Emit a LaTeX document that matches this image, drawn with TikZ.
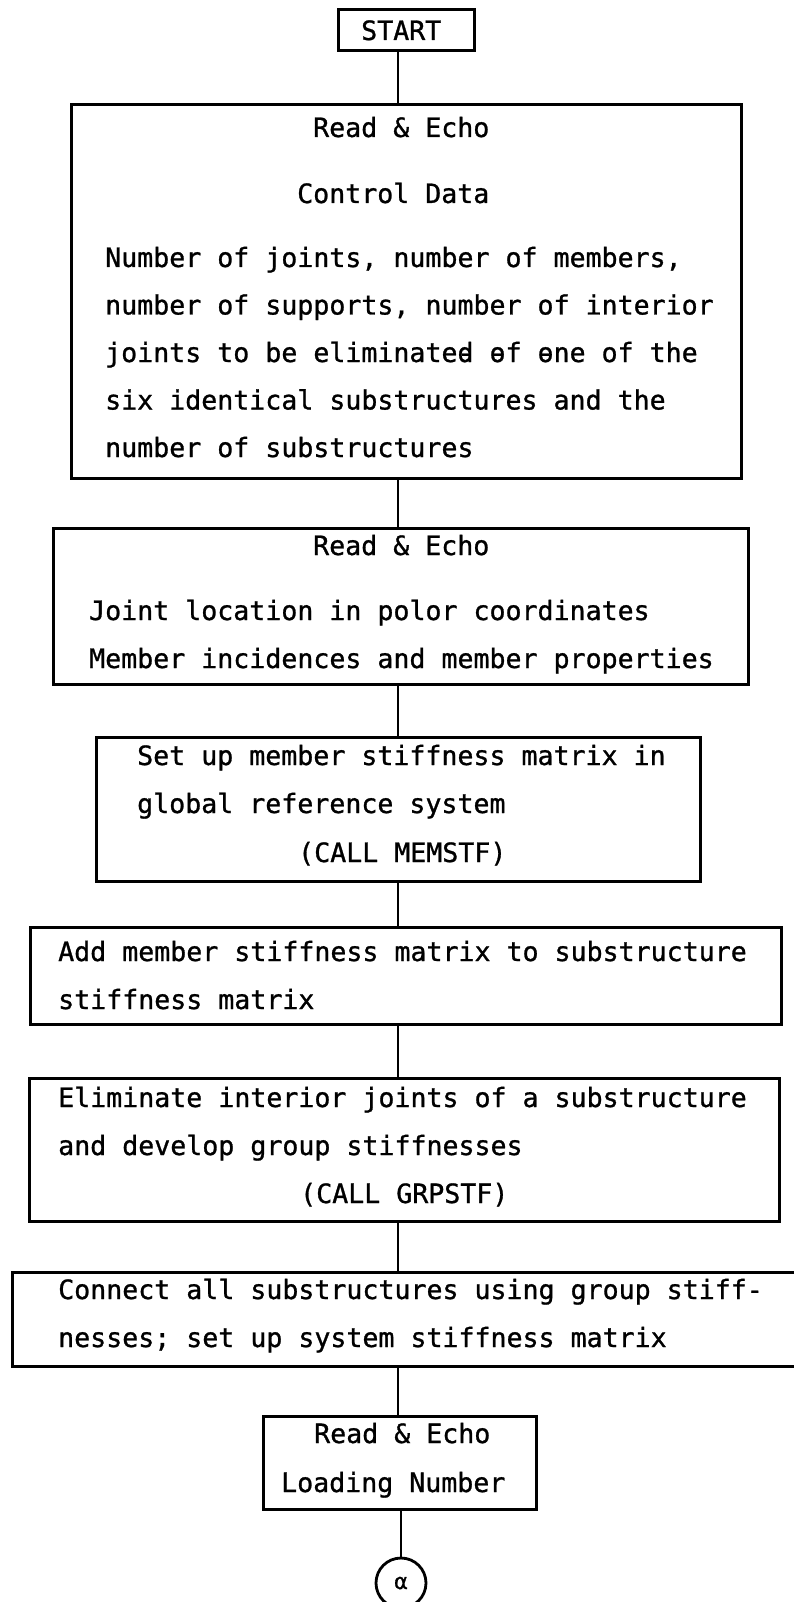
\documentclass[tikz,border=0pt]{standalone}
\usepackage{fontspec}
\setmonofont[FakeBold=1]{DejaVu Sans Mono}
\begin{document}
\begin{tikzpicture}[x=1pt,y=-1pt,
  box/.style={draw, line width=2.8pt, rectangle, inner sep=0pt, anchor=north west},
  txt/.style={anchor=base west, inner sep=0pt, font=\ttfamily\fontsize{26.6}{32}\selectfont},
  link/.style={line width=2.8pt},
  conn/.style={draw, circle, line width=2.8pt, minimum size=50pt, inner sep=0pt, font=\ttfamily\fontsize{22}{26}\selectfont}]
\useasboundingbox (0,0) rectangle (793,1602);
\coordinate (cx) at (398,0);
% START
\node[box, minimum width=136pt, minimum height=41pt] (start) at (337,8) {};
\node[txt] (tstart) at (361,40) {START};
% Box 1
\node[box, minimum width=670pt, minimum height=374pt] (b1) at (70,103) {};
\node[txt] (t1a) at (313,137) {Read \& Echo};
\node[txt] (t1b) at (297,203) {Control Data};
\node[txt] (t1c) at (105,267) {Number of joints, number of members,};
\node[txt] (t1d) at (105,314.5) {number of supports, number of interior};
\node[txt] (t1e) at (105,362) {joints to be eliminate\rlap{-}d \rlap{-}of \rlap{-}one of the};
\node[txt] (t1f) at (105,409.5) {six identical substructures and the};
\node[txt] (t1g) at (105,457) {number of substructures};
% Box 2
\node[box, minimum width=695pt, minimum height=156pt] (b2) at (52,527) {};
\node[txt] (t2a) at (313,555) {Read \& Echo};
\node[txt] (t2b) at (89,620) {Joint location in polor coordinates};
\node[txt] (t2c) at (89,668) {Member incidences and member properties};
% Box 3
\node[box, minimum width=604pt, minimum height=144pt] (b3) at (95,736) {};
\node[txt] (t3a) at (137,765) {Set up member stiffness matrix in};
\node[txt] (t3b) at (137,813) {global reference system};
\node[txt] (t3c) at (298,862) {(CALL MEMSTF)};
% Box 4
\node[box, minimum width=751pt, minimum height=97pt] (b4) at (29,926) {};
\node[txt] (t4a) at (58,961) {Add member stiffness matrix to substructure};
\node[txt] (t4b) at (58,1009) {stiffness matrix};
% Box 5
\node[box, minimum width=750pt, minimum height=143pt] (b5) at (28,1077) {};
\node[txt] (t5a) at (58,1107) {Eliminate interior joints of a substructure};
\node[txt] (t5b) at (58,1155) {and develop group stiffnesses};
\node[txt] (t5c) at (300,1203) {(CALL GRPSTF)};
% Box 6
\node[box, minimum width=789pt, minimum height=94pt] (b6) at (11,1271) {};
\node[txt] (t6a) at (58,1299) {Connect all substructures using group stiff-};
\node[txt] (t6b) at (58,1347) {nesses; set up system stiffness matrix};
% Box 7
\node[box, minimum width=273pt, minimum height=93pt] (b7) at (262,1415) {};
\node[txt] (t7a) at (314,1443) {Read \& Echo};
\node[txt] (t7b) at (281,1492) {Loading Number};
% Connector circle
\node[conn] (alpha) at (401,1583) {α};
% Links
\draw[link] (start.south -| cx) -- (b1.north -| cx);
\draw[link] (b1.south -| cx) -- (b2.north -| cx);
\draw[link] (b2.south -| cx) -- (b3.north -| cx);
\draw[link] (b3.south -| cx) -- (b4.north -| cx);
\draw[link] (b4.south -| cx) -- (b5.north -| cx);
\draw[link] (b5.south -| cx) -- (b6.north -| cx);
\draw[link] (b6.south -| cx) -- (b7.north -| cx);
\draw[link] (b7.south -| alpha.north) -- (alpha.north);
\end{tikzpicture}
\end{document}
